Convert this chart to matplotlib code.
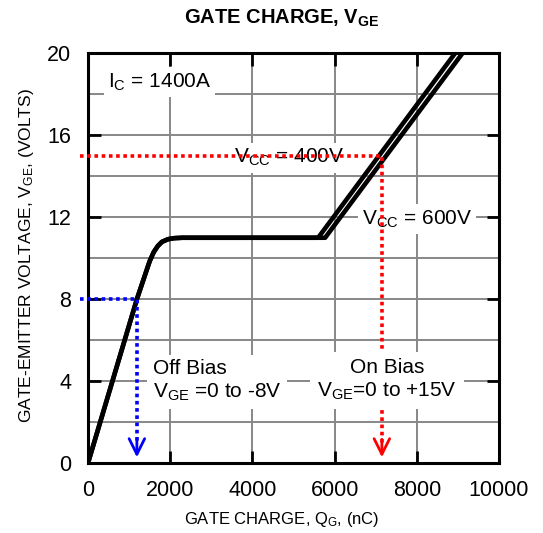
import matplotlib
matplotlib.use("Agg")
import matplotlib.pyplot as plt

plt.rcParams['font.family'] = ['Liberation Sans', 'DejaVu Sans']
plt.rcParams['mathtext.fontset'] = 'custom'
plt.rcParams['mathtext.rm'] = 'Liberation Sans'
plt.rcParams['mathtext.it'] = 'Liberation Sans'
plt.rcParams['mathtext.bf'] = 'Liberation Sans:bold'

# gate charge curve, shared part (nC, V)
qg_common = [0, 1190, 1500, 1600, 1700, 1800, 1950, 2100, 2300, 5600]
vge_common = [0, 8.0, 9.85, 10.3, 10.6, 10.8, 10.93, 10.98, 11.0, 11.0]
# the two branches above the plateau (nearly parallel)
qg_400 = [5600, 8930]
vge_400 = [11.0, 20.0]
qg_600 = [5600, 5770, 9110]
vge_600 = [11.0, 11.0, 20.0]

# bias markers
off_q, off_v = 1190, 8
on_q, on_v = 7150, 15

xticks = [0, 2000, 4000, 6000, 8000, 10000]
yticks = [0, 4, 8, 12, 16, 20]

fig = plt.figure(figsize=(5.43, 5.33), dpi=100)
ax = fig.add_axes([0.162, 0.131, 0.757, 0.769])
ax.set_xlim(0, 10000)
ax.set_ylim(0, 20)

ax.set_xticks(xticks)
ax.set_yticks(yticks)
ax.set_yticks([2, 6, 10, 14, 18], minor=True)
ax.grid(True, which='both', color='#878787', lw=1.4, zorder=0)
ax.set_axisbelow(True)
ax.tick_params(which='major', direction='in', length=9, width=2, top=True, right=True,
               labelsize=15.5, pad=12)
ax.tick_params(which='minor', length=0)
for s in ax.spines.values():
    s.set_linewidth(2.2)

# curves
ax.plot(qg_common + qg_400[1:], vge_common + vge_400[1:], color='black', lw=3.3,
        solid_capstyle='round', solid_joinstyle='round', zorder=4)
ax.plot(qg_common[:-1] + qg_600, vge_common[:-1] + vge_600, color='black', lw=3.3,
        solid_capstyle='round', solid_joinstyle='round', zorder=4)

box = dict(facecolor='white', edgecolor='none', pad=3)
ax.text(490, 18.6, r"I$_\mathrm{C}$ = 1400A", fontsize=15, va='center', ha='left',
        bbox=box, zorder=3)
ax.text(4900, 14.9, r"V$_\mathrm{CC}$ = 400V", fontsize=15, va='center', ha='center',
        bbox=box, zorder=3)
ax.text(8000, 11.9, r"V$_\mathrm{CC}$ = 600V", fontsize=15, va='center', ha='center',
        bbox=box, zorder=3)

# off bias (blue)
ax.plot([-200, off_q, off_q], [off_v, off_v, 1.0], color='blue', lw=2.6,
        dashes=(1, 1), clip_on=False, zorder=5)
ax.annotate('', xy=(off_q, 0.15), xytext=(off_q, 1.3),
            arrowprops=dict(arrowstyle='->', color='blue', lw=2, mutation_scale=28),
            zorder=5)
ax.text(1580, 4.0, "Off Bias\n" + r"V$_\mathrm{GE}$ =0 to -8V", fontsize=15,
        va='center', ha='left', linespacing=1.25,
        bbox=dict(facecolor='white', edgecolor='none', pad=4), zorder=6)

# on bias (red)
ax.plot([-200, on_q, on_q], [on_v, on_v, 1.0], color='red', lw=2.6,
        dashes=(1, 1), clip_on=False, zorder=5)
ax.annotate('', xy=(on_q, 0.15), xytext=(on_q, 1.3),
            arrowprops=dict(arrowstyle='->', color='red', lw=2, mutation_scale=28),
            zorder=5)
ax.text(7270, 4.05, "On Bias\n" + r"V$_\mathrm{GE}$=0 to +15V", fontsize=15,
        va='center', ha='center', linespacing=1.25, multialignment='center',
        bbox=dict(facecolor='white', edgecolor='none', pad=5), zorder=6)

fig.text(0.518, 0.966, r"GATE CHARGE, V$_\mathbf{GE}$", fontsize=14.5, fontweight='bold',
         ha='center', va='center')
fig.text(0.518, 0.025, r"GATE CHARGE, Q$_\mathrm{G}$, (nC)", fontsize=12,
         ha='center', va='center')
fig.text(0.048, 0.52, r"GATE-EMITTER VOLTAGE, V$_\mathrm{GE}$, (VOLTS)", fontsize=12.5,
         ha='center', va='center', rotation=90)

fig.savefig("out.png", dpi=100)
